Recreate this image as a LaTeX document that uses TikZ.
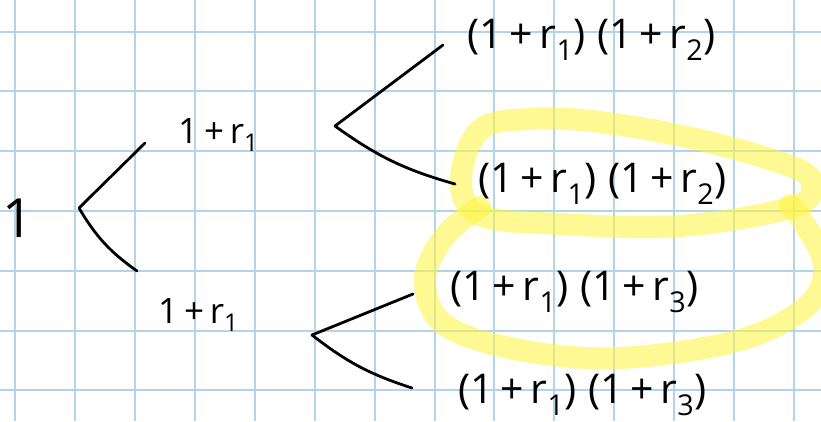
\documentclass[tikz,border=0pt]{standalone}
\usepackage{fontspec}
\setmainfont{Open Sans}
\usepackage{xcolor}
\usepackage{tikz}
\usetikzlibrary{positioning,calc}

\definecolor{gridblue}{RGB}{178,212,234}
\definecolor{hiyellow}{RGB}{255,245,60}

\begin{document}
\begin{tikzpicture}[
  x=1pt, y=-1pt,
  gridline/.style={draw=gridblue, line width=2pt},
  ink/.style={line width=2.8pt, line cap=round},
  hilite/.style={draw=hiyellow, draw opacity=0.55, line width=22pt, line cap=round, line join=round},
  rootlbl/.style={anchor=west, inner sep=0pt, font=\fontsize{54}{58}\selectfont},
  midlbl/.style={anchor=west, inner sep=0pt, font=\fontsize{35}{40}\selectfont},
  leaflbl/.style={anchor=west, inner sep=0pt, font=\fontsize{41}{46}\selectfont}
]
  \useasboundingbox (0,0) rectangle (821,421);
  \fill[white] (0,0) rectangle (821,421);

  % grid paper
  \foreach \gx in {15,75,135,195,255,315,375,435,494,554,614,674,734,794} \draw[gridline] (\gx,0) -- (\gx,421);
  \foreach \gy in {32,91,151,211,271,331,390} \draw[gridline] (0,\gy) -- (821,\gy);

  % highlighter loops
  \draw[hilite] plot[smooth cycle, tension=0.6] coordinates {(530,119) (480,130) (461,180) (480,215) (560,224) (680,226) (790,208) (812,188) (795,168) (700,140) (600,122)};
  \draw[hilite] plot[smooth, tension=0.6] coordinates {(480,207) (445,236) (425,280) (445,325) (520,350) (620,358) (740,340) (808,305) (824,265) (802,220) (790,205)};

  % tree
  \node[rootlbl] (root) at (2,218) {1};
  \node[midlbl] (up) at (178,135) {1\,+\,r\textsubscript{1}};
  \node[midlbl] (down) at (158,315) {1\,+\,r\textsubscript{1}};
  \node[leaflbl] (uu) at (467,40) {(1\,+\,r\textsubscript{1})\;(1\,+\,r\textsubscript{2})};
  \node[leaflbl] (ud) at (478,184) {(1\,+\,r\textsubscript{1})\;(1\,+\,r\textsubscript{2})};
  \node[leaflbl] (du) at (450,292) {(1\,+\,r\textsubscript{1})\;(1\,+\,r\textsubscript{3})};
  \node[leaflbl] (dd) at (458,395) {(1\,+\,r\textsubscript{1})\;(1\,+\,r\textsubscript{3})};

  \coordinate (fork0) at (79,208);
  \coordinate (fork1) at (335,126);
  \coordinate (fork2) at (312,335);

  \draw[ink] (fork0) -- ([shift={(-33,8)}]up.west);
  \draw[ink] (fork0) to[bend right=12] ([shift={(-21,-44)}]down.west);
  \draw[ink] (fork1) -- ([shift={(-24,5)}]uu.west);
  \draw[ink] (fork1) to[bend right=10] ([shift={(-23,0)}]ud.west);
  \draw[ink] (fork2) -- ([shift={(-37,2)}]du.west);
  \draw[ink] (fork2) to[bend right=10] ([shift={(-46,-7)}]dd.west);
\end{tikzpicture}
\end{document}
